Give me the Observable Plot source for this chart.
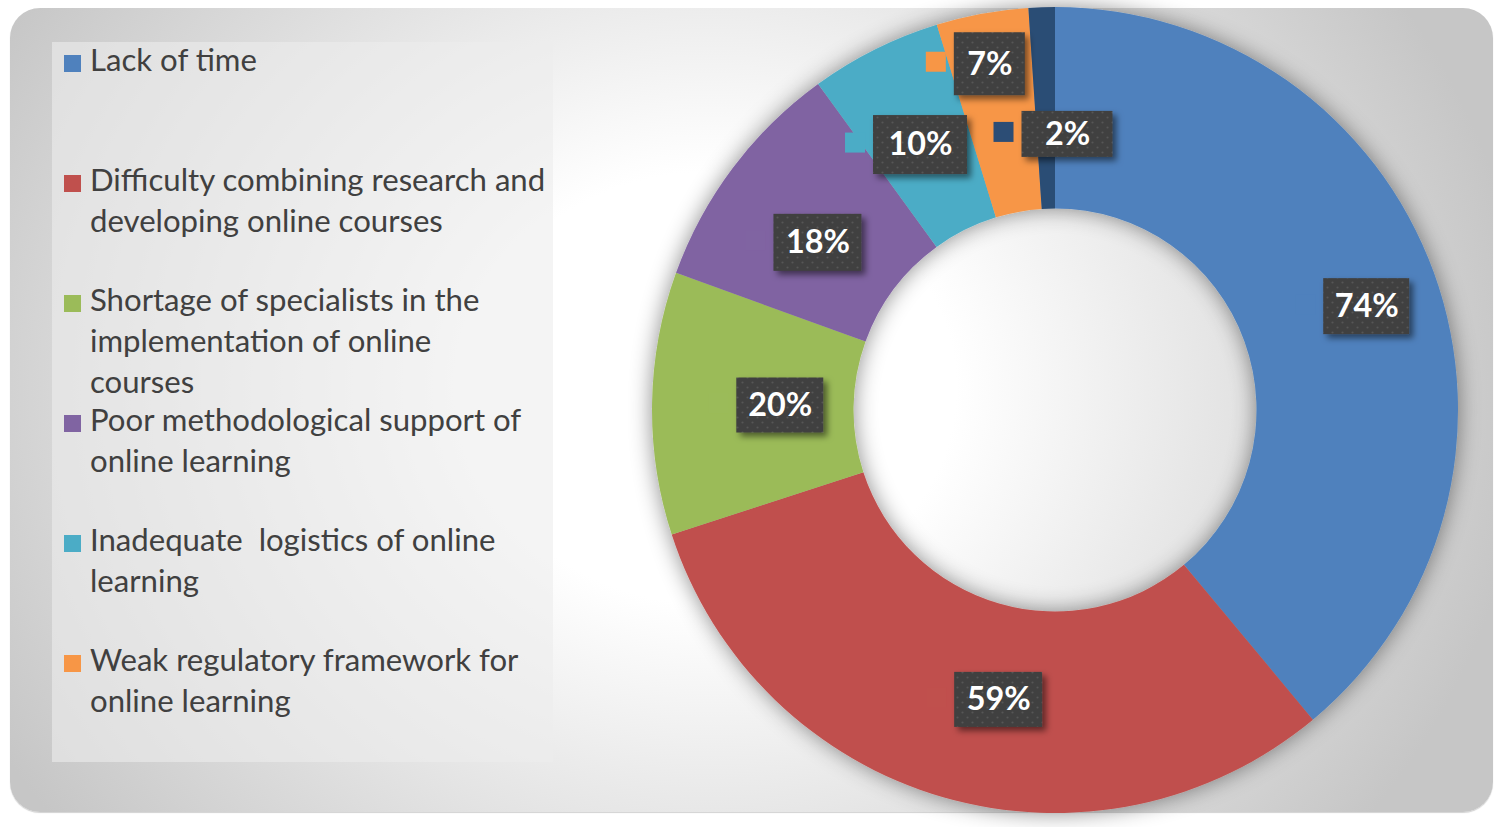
<!DOCTYPE html>
<html>
<head>
<meta charset="utf-8">
<script src="https://cdn.jsdelivr.net/npm/d3@7"></script>
<script src="https://cdn.jsdelivr.net/npm/@observablehq/plot@0.6"></script>
<style>
  html, body { margin: 0; padding: 0; background: #ffffff; overflow: hidden; }
  #page { position: relative; width: 1503px; height: 827px; }
  #frame {
    position: absolute; left: 10px; top: 8px; width: 1483px; height: 804px;
    border-radius: 30px; overflow: hidden;
    background: radial-gradient(ellipse 820px 720px at 700px 380px, #ffffff 30%, #c6c6c6 100%);
    box-shadow: 0 1px 1px rgba(0,0,0,0.18);
  }
  #legend {
    position: absolute; left: 42px; top: 34px; width: 501px; height: 720px;
    background: rgba(237,237,237,0.6);
    font-family: Lato, "Open Sans", sans-serif; color: #404040;
  }
  .entry { position: absolute; left: 0; top: 0; }
  .key { position: absolute; left: 12px; width: 17px; height: 17px; }
  .line { position: absolute; left: 38px; white-space: pre; line-height: 1.2; }
  #chart { position: absolute; left: 0; top: 0; }
</style>
</head>
<body>
<div id="page">
  <div id="frame"><div id="legend"></div></div>
  <div id="chart"></div>
</div>
<script>
// ---------------- data ----------------
const categories = [
  "Lack of time",
  "Difficulty combining research and developing online courses",
  "Shortage of specialists in the implementation of online courses",
  "Poor methodological support of online learning",
  "Inadequate  logistics of online learning",
  "Weak regulatory framework for online learning",
  "Other"
];
const values = [74, 59, 20, 18, 10, 7, 2];
const valueLabels = ["74%", "59%", "20%", "18%", "10%", "7%", "2%"];
// legend text as wrapped in the picture (the seventh entry falls outside the legend box)
const legendLines = [
  ["Lack of time"],
  ["Difficulty combining research and", "developing online courses"],
  ["Shortage of specialists in the", "implementation of online", "courses"],
  ["Poor methodological support of", "online learning"],
  ["Inadequate  logistics of online", "learning"],
  ["Weak regulatory framework for", "online learning"]
];

// ---------------- style / layout ----------------
const colors = ["#4F81BD", "#C0504D", "#9BBB59", "#8064A2", "#4BACC6", "#F79646", "#2C4D75"];
const labelNudge = [[27, -1], [27, -1], [27, 0], [4, 14], [0, 5], [-11, -49], [22, 26]]; // px
const labelBox = [[86, 56], [88, 55], [87, 55], [88, 57], [94, 59], [71, 63], [91, 46]];   // px
const innerRatio = 0.5;
const outerPx = 403;

const colorScale = Plot.scale({color: {type: "ordinal", domain: categories, range: colors}});

function fitSize(text, family, weight, target) {
  const ctx = document.createElement("canvas").getContext("2d");
  ctx.font = `${weight} 100px ${family}`;
  return 100 * target / ctx.measureText(text).width;
}
const legendFont = fitSize("Poor methodological support of", "Lato", "normal", 432);
const labelFont = fitSize("74%", "Lato", "bold", 64);

// ---------------- legend ----------------
const legend = document.getElementById("legend");
const legendTop = 42;          // page y of the legend box
const firstBaseline = 72;      // page y
const entryStep = 120, lineStep = 41;
const baselineInBox = 0.987 * legendFont;
legendLines.forEach((lines, i) => {
  const base = firstBaseline + i * entryStep - legendTop;
  const e = document.createElement("div");
  e.className = "entry";
  const k = document.createElement("div");
  k.className = "key";
  k.style.top = (base - 17) + "px";
  k.style.background = colorScale.apply(categories[i]);
  e.appendChild(k);
  lines.forEach((t, j) => {
    const l = document.createElement("div");
    l.className = "line";
    l.style.fontSize = legendFont + "px";
    l.style.top = (base + j * lineStep - baselineInBox) + "px";
    l.textContent = t;
    e.appendChild(l);
  });
  legend.appendChild(e);
});

// ---------------- donut ----------------
const arcs = d3.pie().sort(null).value(d => d)(values);
const rows = categories.map((cat, i) => {
  const a = (arcs[i].startAngle + arcs[i].endAngle) / 2;
  const rm = (1 + innerRatio) / 2;
  return {
    cat, value: values[i], label: valueLabels[i],
    start: arcs[i].startAngle, end: arcs[i].endAngle,
    bx: rm * Math.sin(a) + labelNudge[i][0] / outerPx,
    by: rm * Math.cos(a) - labelNudge[i][1] / outerPx,
    w: labelBox[i][0], h: labelBox[i][1]
  };
});

function ringMark(index, scales) {
  const x = scales.x, y = scales.y;
  const cx = x(0), cy = y(0), R = x(1) - x(0);
  const g = d3.create("svg:g");
  const f = g.append("defs").append("filter").attr("id", "ringShadow")
    .attr("x", "-15%").attr("y", "-15%").attr("width", "130%").attr("height", "130%");
  f.append("feDropShadow").attr("dx", 0).attr("dy", 0).attr("stdDeviation", 11)
    .attr("flood-color", "#000").attr("flood-opacity", 0.45);
  const arc = d3.arc().innerRadius(R * innerRatio).outerRadius(R);
  g.append("g").attr("filter", "url(#ringShadow)")
    .attr("transform", `translate(${cx},${cy})`)
    .selectAll("path").data(rows).join("path")
    .attr("d", d => arc({startAngle: d.start, endAngle: d.end}))
    .attr("fill", d => colorScale.apply(d.cat));
  return g.node();
}

function labelBoxMark(index, scales) {
  const x = scales.x, y = scales.y;
  const g = d3.create("svg:g");
  const defs = g.append("defs");
  const p = defs.append("pattern").attr("id", "dots").attr("patternUnits", "userSpaceOnUse")
    .attr("width", 10).attr("height", 10);
  p.append("rect").attr("width", 10).attr("height", 10).attr("fill", "#3f3f3f");
  p.append("circle").attr("cx", 2.5).attr("cy", 2.5).attr("r", 1.1).attr("fill", "#575757");
  p.append("circle").attr("cx", 7.5).attr("cy", 7.5).attr("r", 1.1).attr("fill", "#575757");
  const f = defs.append("filter").attr("id", "boxShadow")
    .attr("x", "-30%").attr("y", "-30%").attr("width", "170%").attr("height", "170%");
  f.append("feDropShadow").attr("dx", 4).attr("dy", 4).attr("stdDeviation", 3)
    .attr("flood-color", "#000").attr("flood-opacity", 0.5);
  const items = g.selectAll("g.lab").data(rows).join("g").attr("class", "lab");
  items.append("rect")
    .attr("x", d => x(d.bx) - d.w / 2 - 8 - 20)
    .attr("y", d => y(d.by) - 10 - 2)
    .attr("width", 20).attr("height", 20)
    .attr("fill", d => colorScale.apply(d.cat));
  items.append("rect")
    .attr("x", d => x(d.bx) - d.w / 2)
    .attr("y", d => y(d.by) - d.h / 2)
    .attr("width", d => d.w).attr("height", d => d.h)
    .attr("fill", "url(#dots)")
    .attr("filter", "url(#boxShadow)");
  return g.node();
}

const chart = Plot.plot({
  width: 1503, height: 827, margin: 0,
  x: {domain: [-1, 1], range: [652, 1458], axis: null},
  y: {domain: [-1, 1], range: [813, 7], axis: null},
  style: {background: "transparent", overflow: "visible"},
  marks: [
    ringMark,
    labelBoxMark,
    Plot.text(rows, {
      x: "bx", y: "by", text: "label", fill: "white",
      fontWeight: "bold", fontSize: labelFont, fontFamily: "Lato, 'Open Sans', sans-serif"
    })
  ]
});
document.getElementById("chart").appendChild(chart);
</script>
</body>
</html>
